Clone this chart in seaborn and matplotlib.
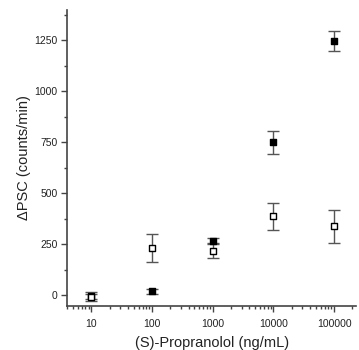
import matplotlib
matplotlib.use('Agg')
import matplotlib.pyplot as plt
import seaborn as sns
import numpy as np
import pandas as pd
from matplotlib.ticker import FuncFormatter, MultipleLocator, LogLocator

sns.set_theme(style="ticks")
plt.rcParams['font.family'] = ['Liberation Sans', 'DejaVu Sans']

# data
conc = [10, 100, 1000, 10000, 100000]
filled_mean = [-5, 21, 266, 750, 1248]
filled_err = [12, 12, 14, 56, 50]
open_mean = [-7, 233, 219, 388, 338]
open_err = [22, 70, 38, 66, 80]

df = pd.DataFrame({
    'conc': conc * 2,
    'dpsc': filled_mean + open_mean,
    'err': filled_err + open_err,
    'group': ['filled'] * 5 + ['open'] * 5,
})

fig = plt.figure(figsize=(3.59, 3.5), dpi=100)
ax = fig.add_axes([0.187, 0.127, 0.805, 0.845])

err_col = '#555555'
for grp, face in [('filled', 'black'), ('open', 'white')]:
    sub = df[df['group'] == grp]
    ax.errorbar(sub['conc'], sub['dpsc'], yerr=sub['err'], fmt='none',
                ecolor=err_col, elinewidth=1, capsize=4.5, capthick=1, zorder=2)
    sns.scatterplot(data=sub, x='conc', y='dpsc', ax=ax, marker='s', s=22,
                    color=face, edgecolor='black', linewidth=1, zorder=3,
                    legend=False)

ax.set_xscale('log')
ax.set_xlim(4, 2.3e5)
ax.set_ylim(-50, 1400)
ax.yaxis.set_major_locator(MultipleLocator(250))
ax.yaxis.set_minor_locator(MultipleLocator(125))
ax.xaxis.set_major_locator(LogLocator(base=10))
ax.xaxis.set_minor_locator(LogLocator(base=10, subs=np.arange(2, 10)))
ax.xaxis.set_major_formatter(FuncFormatter(lambda v, p: f'{int(round(v))}'))
ax.xaxis.set_minor_formatter(FuncFormatter(lambda v, p: ''))

sns.despine(ax=ax)
for s in ['left', 'bottom']:
    ax.spines[s].set_color('#444444')
    ax.spines[s].set_linewidth(1.2)
ax.tick_params(which='major', length=4, width=1, color='#444444', labelsize=7.5,
               labelcolor='#222222', pad=3)
ax.tick_params(axis='x', which='major', pad=6)
ax.tick_params(which='minor', length=2.5, width=1, color='#444444')

ax.set_xlabel('(S)-Propranolol (ng/mL)', fontsize=10.5, color='#222222', labelpad=5)
ax.set_ylabel('\u0394PSC (counts/min)', fontsize=10.5, color='#222222', labelpad=2)

fig.savefig('out.png', dpi=100)
